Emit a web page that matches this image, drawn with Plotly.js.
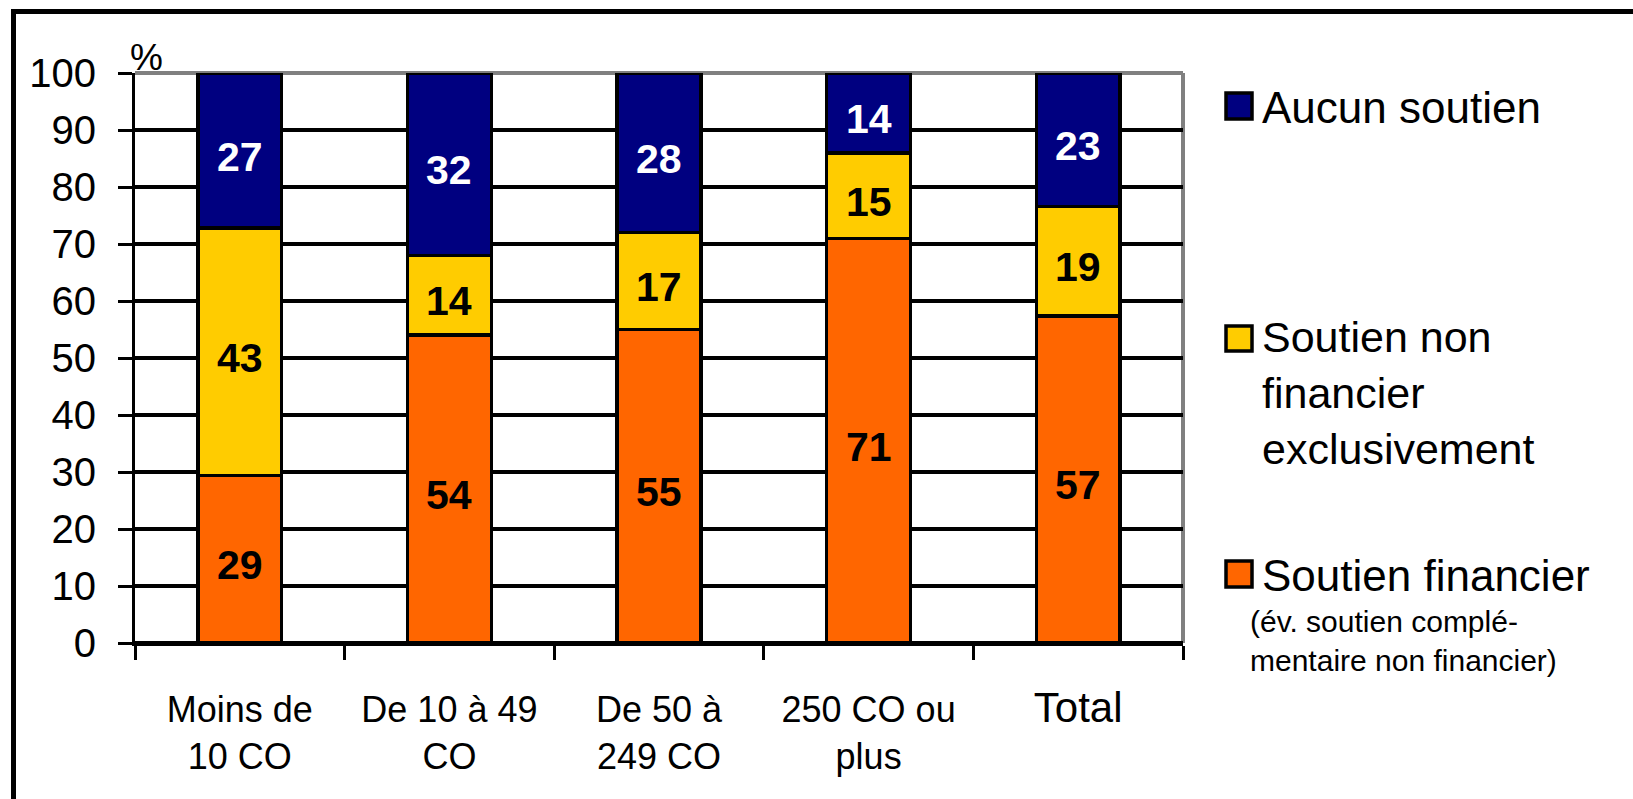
<!DOCTYPE html>
<html>
<head>
<meta charset="utf-8">
<script src="https://cdn.plot.ly/plotly-3.0.1.min.js"></script>
<style>
  html, body { margin: 0; padding: 0; background: #ffffff; }
  #chart { width: 1633px; height: 799px; }
</style>
</head>
<body>
<div id="chart"></div>
<script>
// ---- Data ----
const categories = ["Moins de 10 CO", "De 10 à 49 CO", "De 50 à 249 CO", "250 CO ou plus", "Total"];
const tickLabels = ["Moins de<br>10 CO", "De 10 à 49<br>CO", "De 50 à<br>249 CO", "250 CO ou<br>plus", "<span style=\"font-size:42px\">Total</span>"];
const soutienFinancier = [29.4, 54, 55, 71, 57.4];
const soutienNonFinancier = [43.4, 14, 17, 15, 19.2];
const aucunSoutien = [27.2, 32, 28, 14, 23.4];
const seriesNames = ["Soutien financier", "Soutien non financier exclusivement", "Aucun soutien"];
const yTicks = [0, 10, 20, 30, 40, 50, 60, 70, 80, 90, 100];

// ---- Geometry helpers (pixel -> paper) ----
const L = 135, R = 1183, T = 73, B = 643;
const px = x => (x - L) / (R - L);
const py = y => (B - y) / (B - T);

const FONT = "Arial, 'Liberation Sans', sans-serif";
const colors = ["#FF6600", "#FFCC00", "#000080"];
const textColors = ["#000000", "#000000", "#FFFFFF"];
const seriesValues = [soutienFinancier, soutienNonFinancier, aucunSoutien];

const traces = seriesValues.map((vals, i) => ({
  type: "bar",
  name: seriesNames[i],
  x: categories,
  y: vals,
  marker: { color: colors[i], line: { color: "#000000", width: 3.5 } },
  hoverinfo: "skip"
}));

// ---- Data labels (positioned from the data through the axes) ----
const annotations = [];
seriesValues.forEach((vals, i) => {
  vals.forEach((v, j) => {
    let base = 0;
    for (let k = 0; k < i; k++) base += seriesValues[k][j];
    annotations.push({
      x: categories[j], y: base + v / 2, xref: "x", yref: "y",
      text: "<b>" + Math.round(v) + "</b>",
      showarrow: false, xanchor: "center", yanchor: "middle", yshift: -6,
      font: { family: FONT, size: 41, color: textColors[i] }
    });
  });
});

// ---- Legend drawn as shapes + annotations ----
const legendItems = [
  { color: "#000080", sq: [1226, 93, 1252, 119] },
  { color: "#FFCC00", sq: [1226, 326, 1252, 351] },
  { color: "#FF6600", sq: [1226, 561, 1252, 587] }
];

const shapes = [];
// plot-area gray border (top & right)
shapes.push({ type: "line", xref: "paper", yref: "paper", x0: 0, x1: 1, y0: 1, y1: 1,
  line: { color: "#808080", width: 4 }, layer: "between" });
shapes.push({ type: "line", xref: "paper", yref: "paper", x0: 1, x1: 1, y0: 0, y1: 1,
  line: { color: "#808080", width: 4 }, layer: "between" });
// outer frame
shapes.push({ type: "rect", xref: "paper", yref: "paper",
  x0: px(13.5), x1: px(1750), y0: py(11.5), y1: py(950),
  line: { color: "#000000", width: 5 }, fillcolor: "rgba(0,0,0,0)", layer: "above" });
legendItems.forEach(it => {
  shapes.push({ type: "rect", xref: "paper", yref: "paper",
    x0: px(it.sq[0]), x1: px(it.sq[2]), y0: py(it.sq[3]), y1: py(it.sq[1]),
    line: { color: "#000000", width: 3.5 }, fillcolor: it.color, layer: "above" });
});

annotations.push(
  { text: "%", xref: "paper", yref: "paper", x: px(146), y: py(58), xanchor: "center", yanchor: "middle",
    showarrow: false, font: { family: FONT, size: 37, color: "#000000" } },
  { text: "Aucun soutien", xref: "paper", yref: "paper", x: px(1260), y: py(108), xanchor: "left", yanchor: "middle",
    showarrow: false, font: { family: FONT, size: 44, color: "#000000" } },
  { text: "Soutien non<br>financier<br>exclusivement", xref: "paper", yref: "paper", x: px(1260), y: py(393), xanchor: "left", yanchor: "middle",
    align: "left", showarrow: false, font: { family: FONT, size: 43, color: "#000000" } },
  { text: "Soutien financier", xref: "paper", yref: "paper", x: px(1260), y: py(575), xanchor: "left", yanchor: "middle",
    showarrow: false, font: { family: FONT, size: 44, color: "#000000" } },
  { text: "(év. soutien complé-<br>mentaire non financier)", xref: "paper", yref: "paper", x: px(1248), y: py(641), xanchor: "left", yanchor: "middle",
    align: "left", showarrow: false, font: { family: FONT, size: 30, color: "#000000" } }
);

const layout = {
  width: 1633,
  height: 799,
  margin: { l: L, r: 1633 - R, t: T, b: 799 - B, pad: 0 },
  paper_bgcolor: "#ffffff",
  plot_bgcolor: "#ffffff",
  barmode: "stack",
  bargap: 0.6,
  showlegend: false,
  font: { family: FONT, color: "#000000" },
  xaxis: {
    type: "category",
    tickmode: "array",
    tickvals: categories,
    ticktext: tickLabels,
    tickson: "boundaries",
    ticks: "outside",
    ticklen: 14,
    tickwidth: 3,
    tickcolor: "#000000",
    showline: true,
    linecolor: "#000000",
    linewidth: 3,
    showgrid: false,
    zeroline: false,
    ticklabelstandoff: 33,
    tickfont: { family: FONT, size: 36, color: "#000000" },
    fixedrange: true
  },
  yaxis: {
    range: [0, 100],
    tickmode: "array",
    tickvals: yTicks,
    ticks: "outside",
    ticklen: 14,
    tickwidth: 3,
    tickcolor: "#000000",
    showline: true,
    linecolor: "#000000",
    linewidth: 3,
    showgrid: true,
    gridcolor: "#000000",
    gridwidth: 3.5,
    zeroline: true,
    zerolinecolor: "#000000",
    zerolinewidth: 3.5,
    ticklabelstandoff: 14,
    tickfont: { family: FONT, size: 40, color: "#000000" },
    fixedrange: true
  },
  shapes: shapes,
  annotations: annotations
};

Plotly.newPlot("chart", traces, layout, { displayModeBar: false, staticPlot: true });
</script>
</body>
</html>
